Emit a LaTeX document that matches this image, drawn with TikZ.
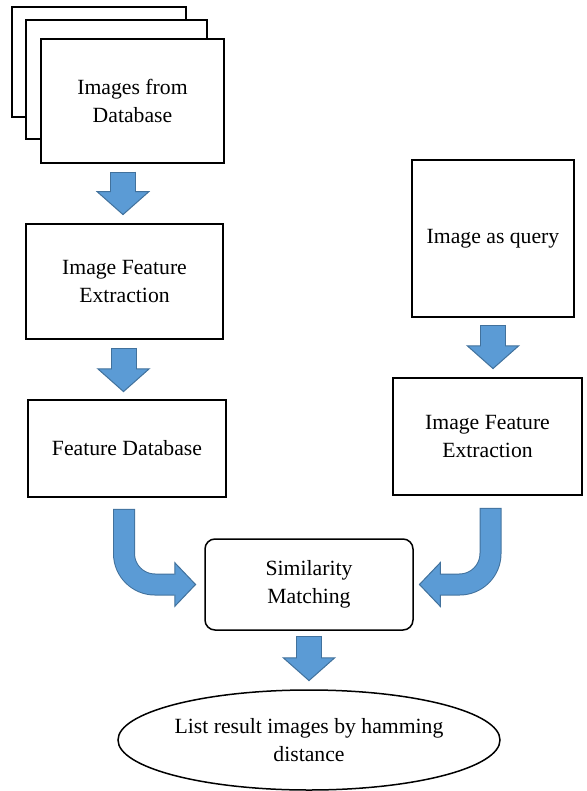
\documentclass[tikz,border=0pt]{standalone}
\usepackage{fontspec}
\setmainfont{Liberation Serif}
\usetikzlibrary{arrows.meta,shapes.geometric}
\definecolor{arrowblue}{RGB}{91,155,213}
\definecolor{arrowedge}{RGB}{65,113,156}

\begin{document}
\begin{tikzpicture}[x=1pt, y=-1pt,
    box/.style={draw, line width=1.5pt, fill=white, align=center, inner sep=0pt,
        font=\fontsize{21.7}{28}\selectfont},
    bigarrow/.style={draw=arrowedge, line width=26pt,
        -{Triangle[width=54pt, length=24pt, line width=1pt, fill=arrowblue]},
        postaction={draw=arrowblue, line width=24pt, -, shorten <=1pt, shorten >=22pt}},
    bendarrow/.style={draw=arrowedge, line width=22pt, rounded corners=31pt,
        -{Triangle[width=46pt, length=22pt, line width=1pt, fill=arrowblue]},
        postaction={draw=arrowblue, line width=20pt, -, shorten <=1pt, shorten >=20pt}}]
        \useasboundingbox (0, 0) rectangle (586, 791);

        % Stack of database images
        \node at (99, 62) (imgs3) [box, minimum width=174pt, minimum height=110pt] {};
        \node at (116.5, 79.5) (imgs2) [box, minimum width=181pt, minimum height=119pt] {};
        \node at (132.5, 101) (imgs) [box, minimum width=183pt, minimum height=124pt] {Images from\\Database};

        % Left column
        \node at (124.5, 281.5) (ext1) [box, minimum width=197pt, minimum height=115pt] {Image Feature\\Extraction};
        \node at (127, 448.5) (fdb) [box, minimum width=198pt, minimum height=97pt] {Feature Database};

        % Right column
        \node at (493, 238.5) (query) [box, minimum width=162pt, minimum height=157pt] {Image as query};
        \node at (487.5, 436.5) (ext2) [box, minimum width=189pt, minimum height=117pt] {Image Feature\\Extraction};

        % Matching and output
        \node at (309, 584.5) (sim) [box, rounded corners=10pt, minimum width=208pt, minimum height=91pt] {Similarity\\Matching};
        \node at (309, 740) (result) [box, ellipse, minimum width=382pt, minimum height=100pt] {List result images by hamming\\distance};

        % Block arrows
        \draw[bigarrow] ([xshift=-9.5pt, yshift=-8pt]imgs.south) -- ([xshift=-1.5pt, yshift=8pt]ext1.north);
        \draw[bigarrow] ([xshift=-1pt, yshift=-8pt]ext1.south) -- ([xshift=-3.5pt, yshift=7pt]fdb.north);
        \draw[bigarrow] ([yshift=-7pt]query.south) -- ([xshift=5.5pt, yshift=8pt]ext2.north);
        \draw[bigarrow] ([yshift=-5pt]sim.south) -- ([yshift=8pt]result.north);

        % Bent arrows into the matching step
        \draw[bendarrow] ([xshift=-3pt, yshift=-11pt]fdb.south) |- ([xshift=-8pt]sim.west);
        \draw[bendarrow] ([xshift=3pt, yshift=-12pt]ext2.south) |- ([xshift=5pt]sim.east);
    \end{tikzpicture}
\end{document}
